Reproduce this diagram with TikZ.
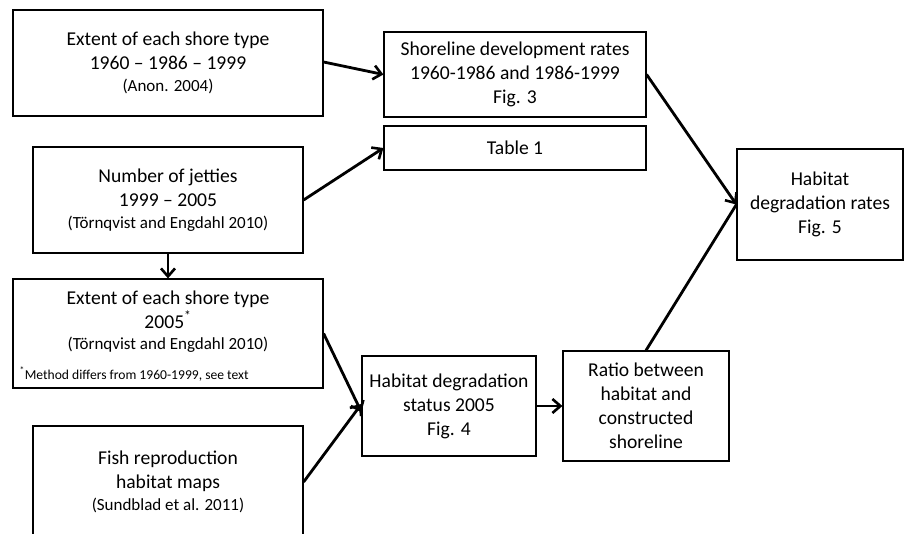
\documentclass[tikz,border=0pt]{standalone}
\usepackage{fontspec}
\setmainfont{Carlito}
\usetikzlibrary{arrows.meta}
\begin{document}
\begin{tikzpicture}[x=1pt,y=-1pt,
  box/.style={draw, line width=1.2pt, inner sep=0pt, align=center, font=\fontsize{19.6}{24}\selectfont},
  conn/.style={line width=2.8pt, -{Straight Barb[length=8pt,width=14pt,line width=2.6pt]}},
  small/.style={font=\fontsize{17}{20}\selectfont}]
\clip (0,0) rectangle (905,534);
\fill[white] (0,0) rectangle (905,534);
\node[box, minimum width=310, minimum height=106] (a) at (168,63)
  {Extent of each shore type\\1960 -- 1986 -- 1999\\[-2pt]{\fontsize{17}{18}\selectfont (Anon. 2004)}};
\node[box, minimum width=262, minimum height=85] (b) at (515,74.5)
  {Shoreline development rates\\1960-1986 and 1986-1999\\Fig. 3};
\node[box, minimum width=262, minimum height=44] (t) at (515,148) {Table 1};
\node[box, minimum width=270, minimum height=106] (j) at (168,200)
  {Number of jetties\\1999 -- 2005\\[-2pt]{\fontsize{17}{18}\selectfont (Törnqvist and Engdahl 2010)}};
\node[box, minimum width=310, minimum height=109] (e) at (168,333.5) {};
\node[font=\fontsize{19.6}{24}\selectfont, align=center] (e1) at (168,309.5)
  {Extent of each shore type\\2005\textsuperscript{*}};
\node[small] (e2) at (168,345) {(Törnqvist and Engdahl 2010)};
\node[anchor=west, font=\fontsize{13.6}{15}\selectfont] (e3) at (16,374)
  {\textsuperscript{*}Method differs from 1960-1999, see text};
\node[box, minimum width=270, minimum height=112] (f) at (168,482)
  {Fish reproduction\\habitat maps\\[-2pt]{\fontsize{17}{18}\selectfont (Sundblad et al. 2011)}};
\node[box, minimum width=174, minimum height=100] (h) at (449,406)
  {Habitat degradation\\status 2005\\Fig. 4};
\node[box, minimum width=166, minimum height=110] (r) at (646,406)
  {Ratio between\\habitat and\\constructed\\shoreline};
\node[box, minimum width=166, minimum height=111] (d) at (820,204.5)
  {Habitat\\degradation rates\\Fig. 5};
\draw[conn] ([yshift=1]a.east) -- (b.west);
\draw[conn] (j.east) -- (t.west);
\draw[conn] (j.south) -- (e.north);
\draw[conn] (e.east) -- ([yshift=-6]h.west);
\draw[conn] (f.east) -- ([yshift=2]h.west);
\draw[conn] (h.east) -- (r.west);
\draw[conn] (b.east) -- (d.west);
\draw[line width=2.8pt] (r.north) -- (d.west);
\end{tikzpicture}
\end{document}
